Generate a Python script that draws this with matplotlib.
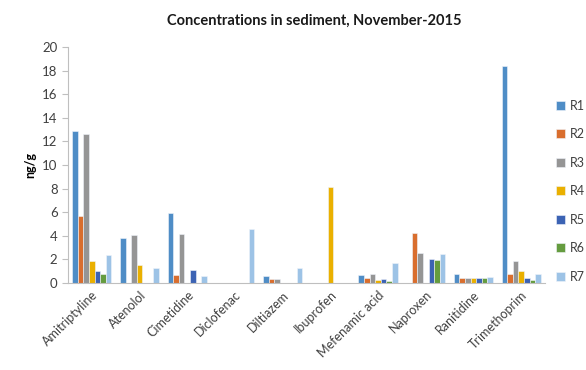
import matplotlib.pyplot as plt
import numpy as np

plt.rcParams['font.family'] = ['Lato', 'DejaVu Sans']

# categories and series values (ng/g)
compounds = ['Amitriptyline', 'Atenolol', 'Cimetidine', 'Diclofenac', 'Diltiazem',
             'Ibuprofen', 'Mefenamic acid', 'Naproxen', 'Ranitidine', 'Trimethoprim']
R1 = [12.9, 3.8, 5.9, 0, 0.6, 0, 0.7, 0, 0.8, 18.4]
R2 = [5.7, 0, 0.7, 0, 0.35, 0, 0.4, 4.2, 0.45, 0.75]
R3 = [12.6, 4.05, 4.15, 0, 0.35, 0, 0.8, 2.55, 0.45, 1.85]
R4 = [1.9, 1.5, 0, 0, 0, 8.1, 0.3, 0, 0.4, 1.05]
R5 = [1.0, 0, 1.1, 0, 0, 0, 0.35, 2.0, 0.4, 0.4]
R6 = [0.8, 0, 0, 0, 0, 0, 0.2, 1.95, 0.4, 0.25]
R7 = [2.35, 1.3, 0.6, 4.6, 1.3, 0, 1.7, 2.45, 0.5, 0.8]
series = [R1, R2, R3, R4, R5, R6, R7]
labels = ['R1', 'R2', 'R3', 'R4', 'R5', 'R6', 'R7']
colors = ['#4F8DC6', '#D96E2E', '#959595', '#EAB000', '#3C63B4', '#659C3F', '#9DC3E6']

fig = plt.figure(figsize=(5.86, 3.70), dpi=100)
ax = fig.add_axes([0.116, 0.235, 0.814, 0.638])

x = np.arange(len(compounds))
w = 0.117
for i, s in enumerate(series):
    ax.bar(x + (i - 3) * w, s, width=w, color=colors[i], label=labels[i],
           edgecolor='#f0f4fa', linewidth=0.4)

ax.set_xlim(-0.5, len(compounds) - 0.5)
ax.set_ylim(0, 20)
ax.set_yticks(range(0, 21, 2))
ax.set_xticks(x)
ax.set_xticklabels(compounds, rotation=45, ha='right', rotation_mode='anchor')
ax.tick_params(axis='x', length=0, labelsize=9, colors='#404040', pad=4)
ax.tick_params(axis='y', length=4, labelsize=9.5, colors='#404040', direction='out', width=0.8)
ax.tick_params(axis='y', color='#bfbfbf')
for sp in ['top', 'right']:
    ax.spines[sp].set_visible(False)
for sp in ['left', 'bottom']:
    ax.spines[sp].set_color('#bfbfbf')
    ax.spines[sp].set_linewidth(0.8)

ax.set_ylabel('ng/g', fontsize=9, fontweight='bold', color='#000000', labelpad=4)
fig.text(0.537, 0.945, 'Concentrations in sediment, November-2015', fontsize=10.5,
         fontweight='bold', ha='center', va='center', color='#1a1a1a')

ax.legend(loc='upper left', bbox_to_anchor=(1.0, 0.825), frameon=False, fontsize=9,
          handlelength=0.7, handleheight=0.7, labelspacing=1.32, handletextpad=0.4,
          labelcolor='#404040')

fig.savefig('out.png', dpi=100)
